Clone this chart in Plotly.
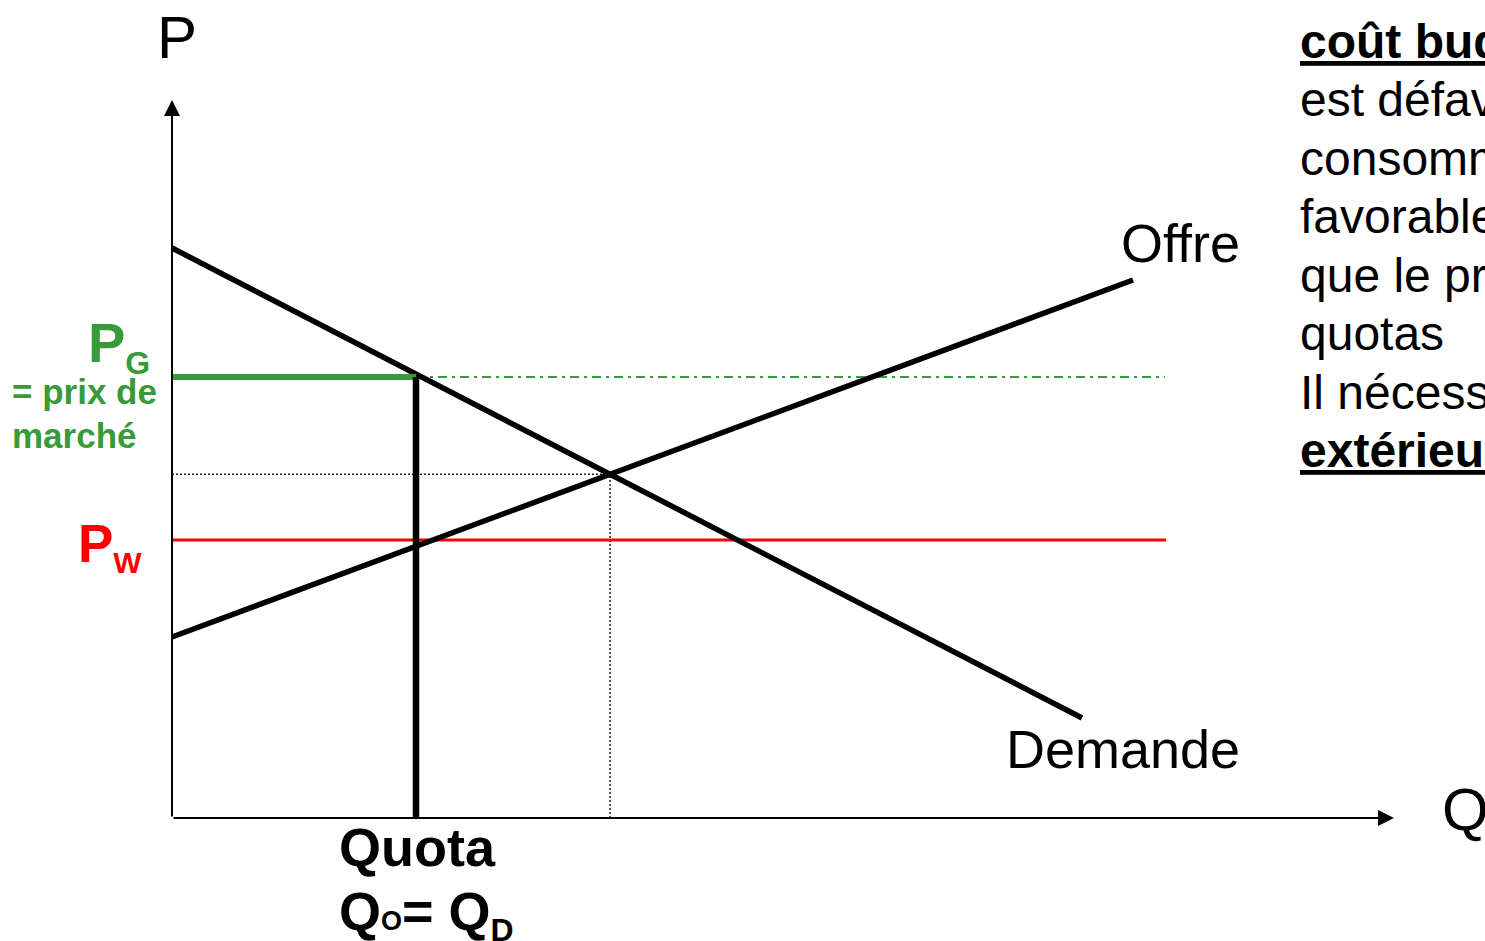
import plotly.graph_objects as go

# Market curves (quantity Q, price P)
demand_q = [0.0, 91.0]
demand_p = [57.0, 10.0]
supply_q = [0.0, 96.1]
supply_p = [18.1, 53.8]

# Price levels and quota
p_world = 27.8      # world price P_W
p_market = 44.1     # domestic price with quota P_G
quota_q = 24.4      # quota quantity Qo = QD
line_end_q = 99.4   # right end of the horizontal price lines

# Axis extents
q_axis_end = 122.2
p_axis_end = 71.8

# Right-hand text column (clipped by the page edge)
side_lines = [
    "<u><b>coût budgétaire</b></u>",
    "est défavorable au",
    "consommateur",
    "favorable",
    "que le prix",
    "quotas",
    "Il nécessite",
    "<u><b>extérieur</b></u>",
]

# Equilibrium without trade: intersection of the two straight lines
sd = (demand_p[1] - demand_p[0]) / (demand_q[1] - demand_q[0])
ss = (supply_p[1] - supply_p[0]) / (supply_q[1] - supply_q[0])
q_eq = (supply_p[0] - demand_p[0]) / (sd - ss)
p_eq = demand_p[0] + sd * q_eq

GREEN = "#389a38"
RED = "#ff0000"
FONT = "Liberation Sans, Arial, sans-serif"

fig = go.Figure()


def seg(xs, ys, color, width, dash="solid"):
    fig.add_trace(go.Scatter(x=xs, y=ys, mode="lines",
                             line=dict(color=color, width=width, dash=dash),
                             hoverinfo="skip", showlegend=False))


# dotted guides to the equilibrium
seg([0, q_eq], [p_eq, p_eq], "#222222", 1.5, "2px,2px")
seg([q_eq, q_eq], [0, p_eq], "#222222", 1.5, "2px,2px")
# domestic price extension
seg([quota_q, line_end_q - 0.1], [p_market, p_market], GREEN, 2, "9px,5px,3px,5px")
# world price
seg([0, line_end_q], [p_world, p_world], RED, 3)
# demand and supply
seg(demand_q, demand_p, "black", 5.5)
seg(supply_q, supply_p, "black", 5.5)
# market price up to the quota
seg([0, quota_q], [p_market, p_market], GREEN, 6)
# quota
seg([quota_q, quota_q], [0, p_market], "black", 6.5)

ann = []
# axes with arrowheads
ann.append(dict(x=q_axis_end, y=0, ax=0, ay=0, xref="x", yref="y", axref="x", ayref="y",
                text="", showarrow=True, arrowhead=2, arrowsize=1.6, arrowwidth=2,
                arrowcolor="black", standoff=0))
ann.append(dict(x=0, y=p_axis_end, ax=0, ay=0, xref="x", yref="y", axref="x", ayref="y",
                text="", showarrow=True, arrowhead=2, arrowsize=1.6, arrowwidth=2,
                arrowcolor="black", standoff=0))


def label(x, y, text, size, color="black", xanchor="left", yanchor="middle"):
    ann.append(dict(x=x, y=y, xref="x", yref="y", text=text, showarrow=False,
                    xanchor=xanchor, yanchor=yanchor, align="left",
                    font=dict(family=FONT, size=size, color=color)))


label(-1.7, 78.1, "P", 60)
label(126.8, 0.9, "Q", 60)
label(107.0, 57.5, "Offre", 54, xanchor="right")
label(107.0, 6.9, "Demande", 54, xanchor="right")
label(16.5, -2.9, "<b>Quota</b>", 54)
label(16.5, -9.6,
      "<b>Q<span style='font-size:27px'>O</span>= Q<sub><span style='font-size:32px'>D</span></sub></b>",
      54)
label(-8.6, 47.2, "<b>P<sub><span style='font-size:32px'>G</span></sub></b>", 56, GREEN)
label(-16.2, 42.7, "<b>= prix de</b>", 35, GREEN)
label(-16.2, 38.3, "<b>marché</b>", 35, GREEN)
label(-9.6, 27.2, "<b>P<sub><span style='font-size:30px'>W</span></sub></b>", 53, RED)

for i, txt in enumerate(side_lines):
    label(112.6, 77.7 - 5.85 * i, txt, 48)

fig.update_layout(
    width=1485, height=941,
    margin=dict(l=0, r=0, t=0, b=0),
    paper_bgcolor="white", plot_bgcolor="white",
    xaxis=dict(range=[-17.2, 131.3], visible=False, fixedrange=True),
    yaxis=dict(range=[-12.3, 81.8], visible=False, fixedrange=True),
    annotations=ann,
    showlegend=False,
)

fig.write_html("out.html")
